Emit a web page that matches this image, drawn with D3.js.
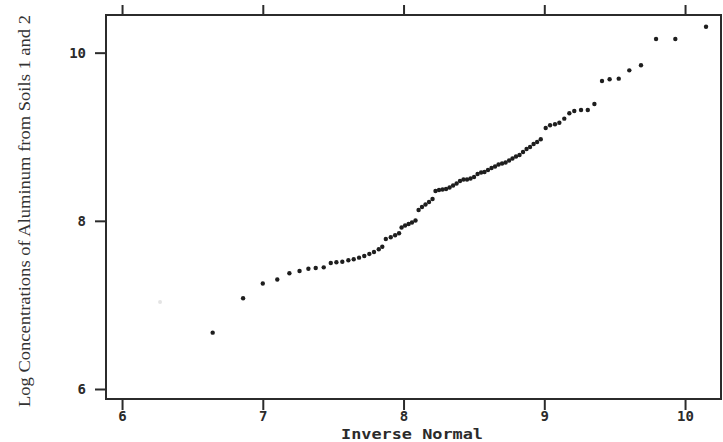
<!DOCTYPE html>
<html>
<head>
<meta charset="utf-8">
<script src="https://cdn.jsdelivr.net/npm/d3@7"></script>
<style>
  body { margin: 0; background: #fff; }
  svg { display: block; }
</style>
</head>
<body>
<script>
// values
const inverseNormal = [
  6.644, 6.860, 7.000, 7.103, 7.189, 7.261, 7.324, 7.376, 7.433, 7.483,
  7.523, 7.565, 7.608, 7.646, 7.684, 7.721, 7.757, 7.790, 7.824, 7.849,
  7.874, 7.909, 7.940, 7.968, 7.986, 8.011, 8.036, 8.060, 8.085, 8.107,
  8.131, 8.156, 8.181, 8.206, 8.227, 8.252, 8.277, 8.302, 8.327, 8.352,
  8.377, 8.401, 8.426, 8.451, 8.476, 8.501, 8.526, 8.551, 8.575, 8.600,
  8.625, 8.650, 8.675, 8.700, 8.725, 8.750, 8.774, 8.799, 8.824, 8.849,
  8.874, 8.899, 8.924, 8.949, 8.975, 9.010, 9.041, 9.076, 9.107, 9.142,
  9.178, 9.213, 9.261, 9.309, 9.356, 9.410, 9.464, 9.529, 9.604, 9.687,
  9.794, 9.931, 10.149
];
const logAluminum = [
  6.670, 7.079, 7.255, 7.302, 7.376, 7.403, 7.430, 7.439, 7.447, 7.499,
  7.507, 7.514, 7.531, 7.543, 7.562, 7.582, 7.606, 7.629, 7.662, 7.692,
  7.784, 7.804, 7.828, 7.852, 7.921, 7.945, 7.962, 7.980, 8.004, 8.129,
  8.165, 8.194, 8.224, 8.260, 8.355, 8.367, 8.373, 8.379, 8.397, 8.420,
  8.444, 8.474, 8.492, 8.492, 8.504, 8.521, 8.557, 8.575, 8.581, 8.605,
  8.628, 8.646, 8.670, 8.682, 8.694, 8.718, 8.741, 8.765, 8.783, 8.819,
  8.854, 8.878, 8.914, 8.938, 8.970, 9.104, 9.136, 9.148, 9.167, 9.215,
  9.279, 9.306, 9.318, 9.318, 9.390, 9.663, 9.683, 9.691, 9.790, 9.850,
  10.163, 10.163, 10.309
];
// one very faint point near the lower left
const faintPoint = [6.270, 7.035];

const xTicks = [6, 7, 8, 9, 10];
const yTicks = [6, 8, 10];

const width = 723, height = 442;
const margin = {top: 15, right: 1.5, bottom: 43, left: 106};

const svg = d3.select("body").append("svg")
  .attr("width", width)
  .attr("height", height);

const x = d3.scaleLinear()
  .domain([5.886, 10.259])
  .range([margin.left, width - margin.right]);

const y = d3.scaleLinear()
  .domain([5.881, 10.448])
  .range([height - margin.bottom, margin.top]);

const tickFont = "bold 14px 'DejaVu Sans Mono', monospace";
const ink = "#2b2b2b";

// bottom axis
const gx = svg.append("g")
  .attr("transform", `translate(0,${height - margin.bottom})`)
  .call(d3.axisBottom(x).tickValues(xTicks).tickSize(11).tickPadding(1).tickFormat(d3.format("d")));

// top axis, ticks only
const gt = svg.append("g")
  .attr("transform", `translate(0,${margin.top})`)
  .call(d3.axisTop(x).tickValues(xTicks).tickSize(10).tickFormat(""));

// left axis
const gy = svg.append("g")
  .attr("transform", `translate(${margin.left},0)`)
  .call(d3.axisLeft(y).tickValues(yTicks).tickSize(11).tickPadding(9).tickFormat(d3.format("d")));

[gx, gt, gy].forEach(g => {
  g.select(".domain").remove();
  g.selectAll(".tick line").attr("stroke", ink).attr("stroke-width", 2);
  g.selectAll(".tick text").attr("fill", ink).style("font", tickFont);
});

// frame
svg.append("rect")
  .attr("x", margin.left)
  .attr("y", margin.top)
  .attr("width", width - margin.left - margin.right - 0.5)
  .attr("height", height - margin.top - margin.bottom)
  .attr("fill", "none")
  .attr("stroke", ink)
  .attr("stroke-width", 2);

// points
svg.append("circle")
  .attr("cx", x(faintPoint[0]))
  .attr("cy", y(faintPoint[1]))
  .attr("r", 2)
  .attr("fill", "#e4e4e4");

svg.append("g")
  .selectAll("circle")
  .data(inverseNormal.map((v, i) => [v, logAluminum[i]]))
  .join("circle")
  .attr("cx", d => x(d[0]))
  .attr("cy", d => y(d[1]))
  .attr("r", 2.2)
  .attr("fill", "#1e1e1e");

// axis titles
svg.append("text")
  .attr("x", 412)
  .attr("y", 439)
  .attr("text-anchor", "middle")
  .attr("textLength", 142)
  .attr("lengthAdjust", "spacingAndGlyphs")
  .attr("fill", ink)
  .style("font", "600 14px 'DejaVu Sans Mono', monospace")
  .text("Inverse Normal");

svg.append("text")
  .attr("transform", "translate(30,211) rotate(-90)")
  .attr("text-anchor", "middle")
  .attr("textLength", 392)
  .attr("lengthAdjust", "spacingAndGlyphs")
  .attr("fill", "#333")
  .style("font", "17px 'Liberation Serif', 'Times New Roman', serif")
  .text("Log Concentrations of Aluminum from Soils 1 and 2");
</script>
</body>
</html>
